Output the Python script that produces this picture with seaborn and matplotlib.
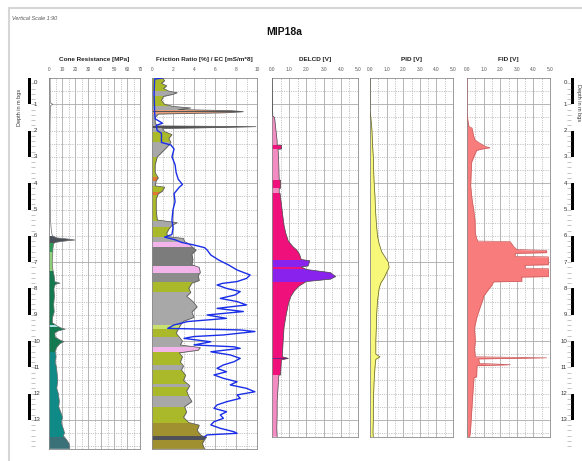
import numpy as np
import matplotlib
matplotlib.use("Agg")
import matplotlib.pyplot as plt
import matplotlib.lines as mlines
import matplotlib.transforms as mtrans
import seaborn as sns

# ---------------------------------------------------------------------------
# data (depth in m bgs)
# ---------------------------------------------------------------------------
qc_depth = [0.0, 0.5, 0.95, 1.0, 1.05, 1.5, 2.0, 2.3, 2.6, 3.0, 4.0, 5.0, 5.5, 5.8,
            6.0, 6.08, 6.12, 6.16, 6.2, 6.25, 6.3, 6.5, 6.8, 7.0, 7.3, 7.4, 7.6,
            7.75, 7.8, 7.85, 8.0, 8.3, 8.6, 8.9, 9.1, 9.3, 9.42, 9.5, 9.55, 9.62,
            9.7, 9.85, 9.95, 10.03, 10.1, 10.25, 10.4, 10.6, 10.8, 11.0, 11.2,
            11.5, 11.8, 12.0, 12.3, 12.5, 12.7, 12.9, 13.1, 13.3, 13.5, 13.6,
            13.75, 13.9, 14.1]
qc_value = [0.8, 0.9, 1.0, 3.0, 1.2, 0.9, 0.8, 0.7, 0.8, 0.8, 0.9, 1.0, 1.3, 1.8,
            2.5, 6.0, 14.0, 20.0, 12.0, 5.0, 3.5, 3.0, 2.8, 2.5, 3.0, 3.5, 4.2,
            4.5, 8.5, 4.8, 3.8, 4.2, 3.6, 4.0, 2.8, 2.5, 6.0, 9.0, 12.5, 7.0,
            4.5, 4.8, 8.0, 11.5, 8.5, 5.9, 4.8, 5.5, 4.8, 5.8, 6.2,
            6.8, 6.0, 7.2, 8.0, 7.5, 9.0, 10.5, 9.5, 10.8, 12.0, 11.0,
            13.5, 15.5, 16.0]
qc_layers = [(6.0, 6.27, "#4a5058"), (6.27, 6.6, "#2e9a58"), (6.6, 7.35, "#8fd07a"),
             (7.35, 9.4, "#137a50"), (9.4, 9.47, "#a8e0e8"), (9.47, 10.4, "#137a50"),
             (10.4, 13.65, "#108a86"), (13.65, 14.1, "#3a7078")]

fr_depth = [0.0, 0.1, 0.2, 0.3, 0.4, 0.5, 0.56, 0.62, 0.7, 0.85, 1.0, 1.08, 1.14,
            1.2, 1.24, 1.28, 1.32, 1.37, 1.5, 1.7, 1.82, 1.85, 1.88, 1.92, 2.04,
            2.15, 2.3, 2.45, 2.6, 2.8, 3.0, 3.3, 3.6, 3.8, 3.9, 4.1, 4.15, 4.3,
            4.4, 4.6, 5.0, 5.4, 5.5, 5.6, 5.75, 5.9, 6.03, 6.1, 6.22, 6.3, 6.41,
            6.55, 6.7, 6.9, 7.1, 7.2, 7.4, 7.5, 7.7, 7.8, 8.0, 8.15, 8.3, 8.5,
            8.7, 8.9, 9.1, 9.25, 9.4, 9.55, 9.7, 9.85, 10.0, 10.15, 10.25, 10.35,
            10.45, 10.6, 10.8, 10.95, 11.1, 11.3, 11.5, 11.7, 11.9, 12.1, 12.3,
            12.5, 12.7, 12.9, 13.1, 13.2, 13.4, 13.6, 13.65, 13.75, 13.9, 14.1]
fr_value = [1.0, 1.2, 0.9, 1.4, 1.1, 1.6, 2.4, 2.0, 1.1, 0.9, 1.2, 2.0, 3.7,
            2.5, 7.5, 8.7, 7.0, 0.6, 0.3, 0.3, 0.5, 9.9, 6.5, 1.0, 1.2,
            1.9, 1.6, 1.8, 1.5, 1.0, 0.5, 0.3, 0.3, 0.6, 0.4, 0.3, 1.2, 1.0,
            0.6, 0.4, 0.4, 0.5, 2.4, 1.9, 1.6, 1.4, 1.5, 3.0, 3.1, 3.5, 3.8,
            4.2, 3.8, 3.9, 3.8, 4.5, 4.6, 4.4, 4.5, 3.8, 3.5, 3.7, 3.3, 3.9,
            4.3, 3.8, 4.0, 3.0, 2.7, 2.5, 2.3, 2.6, 2.9, 2.7, 4.6, 4.4,
            2.6, 2.9, 2.7, 3.0, 2.8, 3.2, 3.0, 3.6, 3.3, 3.5, 3.8,
            3.1, 3.3, 3.0, 3.5, 4.5, 4.3, 4.7, 5.2, 5.0, 4.8, 5.0]

OLIVE, GRAY, DGRAY, SALMON = "#a9b92a", "#a8a8a8", "#7c7c7c", "#e8a07a"
PINK, ORANGE, LGREEN, DOLIVE, CHAR = "#f2b4ea", "#e07830", "#c8e070", "#a09030", "#505058"
fr_layers = [(0.0, 0.5, OLIVE), (0.5, 0.68, GRAY), (0.68, 1.05, OLIVE), (1.05, 1.2, GRAY),
             (1.2, 1.37, SALMON), (1.27, 1.3, "#555555"), (1.37, 1.83, GRAY),
             (1.83, 1.9, "#505050"), (1.9, 2.04, GRAY), (2.04, 2.45, OLIVE),
             (2.45, 3.0, GRAY), (3.0, 3.75, OLIVE), (3.75, 3.92, ORANGE),
             (3.92, 4.12, GRAY), (4.12, 4.32, OLIVE), (4.32, 4.45, ORANGE),
             (4.45, 5.45, OLIVE), (5.45, 5.65, GRAY), (5.65, 6.03, OLIVE),
             (6.03, 6.22, GRAY), (6.22, 6.41, PINK), (6.41, 7.15, DGRAY),
             (7.15, 7.43, PINK), (7.43, 7.74, "#8c8c8c"), (7.74, 8.12, OLIVE),
             (8.12, 9.4, GRAY), (9.4, 9.55, LGREEN), (9.55, 9.83, OLIVE),
             (9.83, 10.22, GRAY), (10.22, 10.41, PINK), (10.41, 10.91, OLIVE),
             (10.91, 11.1, GRAY), (11.1, 11.65, OLIVE), (11.65, 11.75, GRAY),
             (11.75, 12.1, OLIVE), (12.1, 12.5, GRAY), (12.5, 13.1, OLIVE),
             (13.1, 13.6, DOLIVE), (13.6, 13.75, CHAR), (13.75, 14.1, DOLIVE)]

ec_depth = [0.0, 0.04, 0.6, 1.3, 1.55, 1.72, 1.8, 2.0, 2.1, 2.45, 2.55, 2.7, 3.0,
            3.3, 3.6, 3.85, 4.05, 4.15, 4.4, 4.7, 5.0, 5.4, 5.7, 5.95, 6.05, 6.15,
            6.25, 6.35, 6.45, 6.54, 6.73, 6.92, 7.11, 7.30, 7.49, 7.62, 7.74,
            7.81, 7.87, 8.00, 8.12, 8.25, 8.38, 8.50, 8.63, 8.76, 8.88, 9.01,
            9.14, 9.26, 9.39, 9.52, 9.58, 9.64, 9.77, 9.83, 9.90, 10.03, 10.15,
            10.22, 10.28, 10.41, 10.53, 10.66, 10.79, 10.91, 11.04, 11.17, 11.29,
            11.42, 11.55, 11.67, 11.80, 11.93, 12.05, 12.18, 12.31, 12.43, 12.56,
            12.69, 12.81, 12.94, 13.07, 13.19, 13.32, 13.45, 13.51, 13.57, 13.64]
ec_value = [1.0, 0.25, 0.2, 0.25, 0.3, 1.0, 0.4, 0.5, 0.9, 0.9, 1.8, 2.1, 1.9,
            2.2, 2.3, 2.5, 2.9, 2.6, 2.1, 2.2, 2.0, 1.9, 2.0, 1.9, 1.2, 2.2,
            2.8, 4.0, 5.0, 5.25, 5.6, 6.35, 7.3, 8.1, 9.35, 9.0, 8.1,
            6.7, 6.2, 7.1, 8.4, 7.9, 6.5, 8.1, 9.0, 6.2, 8.7, 5.25,
            7.1, 3.4, 2.1, 1.5, 8.4, 9.8, 6.8, 4.0, 3.05, 5.6, 4.0,
            7.8, 8.4, 5.6, 7.45, 8.4, 7.8, 6.8, 6.2, 7.1, 5.9,
            6.8, 8.1, 7.45, 9.0, 9.8, 8.1, 8.4, 7.1, 6.2, 5.9,
            7.1, 6.5, 6.8, 5.9, 5.6, 6.5, 7.8, 8.1, 5.25, 5.0]

delcd_depth = [0.0, 1.15, 1.45, 1.5, 1.8, 2.1, 2.4, 2.55, 2.56, 2.7, 2.71, 3.0, 3.4,
               3.88, 3.89, 4.19, 4.2, 4.38, 4.39, 4.8, 5.2, 5.6, 5.9, 6.2, 6.4,
               6.55, 6.7, 6.9, 6.95, 7.15, 7.18, 7.28, 7.4, 7.55, 7.65, 7.74, 7.9,
               8.1, 8.3, 8.6, 9.1, 9.5, 10.0, 10.6, 10.66, 10.72, 11.29, 11.3,
               11.8, 12.3, 12.8, 13.3, 13.64]
delcd_value = [0.0, 0.02, 0.05, 0.15, 0.2, 0.25, 0.3, 0.3, 0.56, 0.56, 0.35, 0.38, 0.4,
               0.42, 0.5, 0.5, 0.42, 0.42, 0.47, 0.55, 0.62, 0.7, 0.8, 0.95, 1.2,
               1.45, 1.6, 1.7, 2.2, 2.1, 1.7, 2.0, 3.4, 3.7, 3.4, 2.0, 1.6,
               1.3, 1.1, 0.95, 0.8, 0.7, 0.65, 0.6, 0.95, 0.55, 0.5, 0.4,
               0.35, 0.3, 0.3, 0.28, 0.3]
LPINK, HPINK, PURPLE = "#f48cc4", "#f0107c", "#8a22ee"
delcd_layers = [(1.45, 2.55, LPINK), (2.55, 2.71, HPINK), (2.71, 3.88, LPINK),
                (3.88, 4.19, HPINK), (4.19, 4.38, LPINK), (4.38, 6.93, HPINK),
                (6.93, 7.17, PURPLE), (7.17, 7.28, HPINK), (7.28, 7.74, PURPLE),
                (7.74, 11.3, HPINK), (10.63, 10.69, "#702080"), (11.3, 13.65, LPINK)]

pid_depth = [0.0, 1.3, 1.5, 2.0, 2.5, 3.0, 3.5, 4.0, 4.5, 5.0, 5.5, 6.0, 6.3, 6.6,
             6.8, 7.0, 7.2, 7.4, 7.6, 7.8, 8.0, 8.5, 9.0, 9.5, 10.0, 10.5, 10.6,
             10.7, 11.0, 11.5, 12.0, 12.5, 13.0, 13.5, 13.64]
pid_value = [0.0, 0.0, 0.05, 0.12, 0.15, 0.2, 0.22, 0.25, 0.3, 0.33, 0.38, 0.45, 0.55,
             0.7, 0.9, 1.1, 1.15, 1.0, 0.85, 0.65, 0.55, 0.45, 0.4, 0.38, 0.35, 0.35,
             0.6, 0.35, 0.3, 0.25, 0.22, 0.2, 0.2, 0.18, 0.2]

fid_depth = [0.0, 1.34, 1.6, 1.85, 1.9, 2.2, 2.35, 2.45, 2.6, 2.65, 2.7, 2.75, 2.93,
             3.2, 3.6, 4.1, 4.6, 5.0, 5.4, 5.9, 6.1, 6.2, 6.22, 6.4, 6.52, 6.56,
             6.64, 6.67, 6.78, 6.8, 7.1, 7.12, 7.23, 7.25, 7.55, 7.57, 7.73, 7.75,
             7.87, 8.0, 8.12, 8.3, 8.44, 8.7, 9.08, 9.5, 10.0, 10.3, 10.6, 10.64,
             10.68, 10.85, 10.9, 10.94, 11.36, 11.4, 12.0, 12.5, 13.0, 13.5, 13.64]
fid_value = [0.0, 0.0, 0.05, 0.12, 0.3, 0.4, 0.48, 0.7, 1.1, 1.38, 0.9, 0.58, 0.45,
             0.28, 0.25, 0.22, 0.3, 0.4, 0.48, 0.5, 0.58, 0.65, 2.6, 2.8, 3.0, 4.8,
             4.8, 2.9, 2.9, 4.9, 4.9, 3.5, 3.5, 4.9, 4.9, 3.3, 3.3, 1.6,
             1.5, 1.35, 1.2, 1.0, 0.95, 0.8, 0.6, 0.45, 0.5, 0.45, 0.5, 4.8,
             0.7, 0.75, 2.6, 0.6, 0.58, 0.42, 0.35, 0.3, 0.25, 0.2, 0.15]

# ---------------------------------------------------------------------------
# layout helpers (pixel boxes on a 582 x 461 canvas)
# ---------------------------------------------------------------------------
W, H = 582, 461
TOP, PX_PER_M = 78, 26.3
CPT_BOTTOM, MIP_BOTTOM = 449, 437

sns.set_theme(style="white")
plt.rcParams["font.family"] = ["Liberation Sans", "DejaVu Sans"]

fig = plt.figure(figsize=(W / 100, H / 100), dpi=100, facecolor="white")


def px_axes(x0, y0, x1, y1):
    return fig.add_axes([x0 / W, 1 - y1 / H, (x1 - x0) / W, (y1 - y0) / H])


def setup_panel(ax, xmax, step, bottom_px, title, fmt):
    dmax = (bottom_px - TOP) / PX_PER_M
    ax.set_xlim(0, xmax)
    ax.set_ylim(dmax, 0)
    ticks = np.arange(0, xmax + 1e-9, step)
    ax.set_xticks(ticks)
    ax.set_xticklabels([fmt.format(t) for t in ticks])
    ax.set_xticks(np.arange(step / 2, xmax, step), minor=True)
    ax.set_yticks(np.arange(1, dmax, 3))
    ax.set_yticks(np.arange(0.5, dmax, 0.5), minor=True)
    ax.grid(which="major", color="#a9a9a9", lw=0.6, ls="-")
    ax.grid(which="minor", color="#b4b4b4", lw=0.55, ls=(0, (1.5, 1.5)))
    ax.set_axisbelow(True)
    ax.xaxis.tick_top()
    ax.tick_params(axis="x", which="both", length=0, labelsize=3.4,
                   colors="#555555", pad=4.5)
    ax.tick_params(axis="y", which="both", length=0, labelleft=False)
    ax.set_xlabel("")
    ax.set_ylabel("")
    for s in ax.spines.values():
        s.set_color("#8a8a8a")
        s.set_linewidth(0.6)
    bb = ax.get_position()
    fig.text((bb.x0 + bb.x1) / 2, 1 - 60 / H, title, ha="center", va="center",
             fontsize=4.6, fontweight="bold", color="#222222")


def banded_fill(ax, depth, values, layers, base, edge):
    poly = ax.fill_betweenx(depth, 0, values, color=base, lw=0, zorder=2)
    path = poly.get_paths()[0]
    for top, bot, c in layers:
        band = ax.axhspan(top, bot, color=c, lw=0, zorder=2.1)
        band.set_clip_path(path, poly.get_transform())
    sns.lineplot(x=values, y=depth, orient="y", sort=False, estimator=None,
                 color=edge, lw=0.5, ax=ax, legend=False, zorder=3)


# ---------------------------------------------------------------------------
# panels
# ---------------------------------------------------------------------------
ax1 = px_axes(49, TOP, 140, CPT_BOTTOM)
banded_fill(ax1, qc_depth, qc_value, qc_layers, "#ffffff", "#6a6a6a")
setup_panel(ax1, 70, 10, CPT_BOTTOM, "Cone Resistance [MPa]", "{:.0f}")

ax2 = px_axes(152, TOP, 257, CPT_BOTTOM)
banded_fill(ax2, fr_depth, fr_value, fr_layers, GRAY, "#555555")
sns.lineplot(x=ec_value, y=ec_depth, orient="y", sort=False, estimator=None,
             color="#1a2ee8", lw=1.0, ax=ax2, legend=False, zorder=4)
setup_panel(ax2, 10, 2, CPT_BOTTOM, "Friction Ratio [%] / EC [mS/m*8]", "{:.0f}")

ax3 = px_axes(272, TOP, 358, MIP_BOTTOM)
banded_fill(ax3, delcd_depth, delcd_value, delcd_layers, "#ffffff", "#444444")
setup_panel(ax3, 5, 1, MIP_BOTTOM, "DELCD [V]", "{:.1f}")

ax4 = px_axes(370, TOP, 453, MIP_BOTTOM)
banded_fill(ax4, pid_depth, pid_value, [], "#f7f77a", "#5a5a30")
setup_panel(ax4, 5, 1, MIP_BOTTOM, "PID [V]", "{:.1f}")

ax5 = px_axes(467, TOP, 550, MIP_BOTTOM)
banded_fill(ax5, fid_depth, fid_value, [], "#f87c7c", "#c86060")
setup_panel(ax5, 5, 1, MIP_BOTTOM, "FID [V]", "{:.1f}")

# ---------------------------------------------------------------------------
# depth scale bars on both sides
# ---------------------------------------------------------------------------
dmax_cpt = (CPT_BOTTOM - TOP) / PX_PER_M
depth_labels = list(range(0, 14))


def depth_bar(x0, x1, side):
    ax = px_axes(x0, TOP, x1, CPT_BOTTOM)
    ax.set_ylim(dmax_cpt, 0)
    ax.set_xlim(0, 1)
    ax.axis("off")
    for d in depth_labels:
        if d % 2 == 0:
            ax.axhspan(d, d + 1, color="black", lw=0)
    trans = mtrans.blended_transform_factory(ax.transAxes, ax.transData)
    minor = np.arange(0.2, dmax_cpt, 0.2)
    xs = (1.0, 2.2) if side == "left" else (-1.2, 0.0)
    ax.hlines(minor, xs[0], xs[1], transform=trans, color="#9a9a9a", lw=0.4,
              clip_on=False)
    for d in depth_labels:
        y = d + 0.18 if d == 0 else d
        if side == "left":
            ax.text(2.0, y, str(d), transform=trans, ha="left", va="center",
                    fontsize=4.4, color="#333333")
        else:
            ax.text(-1.3, y, str(d), transform=trans, ha="right", va="center",
                    fontsize=4.4, color="#333333")
    return ax


depth_bar(28, 31, "left")
depth_bar(571, 574, "right")
fig.text(20 / W, 1 - 107 / H, "Depth in m bgs", rotation=90, ha="center",
         va="center", fontsize=4, color="#333333")
fig.text(579 / W, 1 - 103 / H, "Depth in m bgs", rotation=270, ha="center",
         va="center", fontsize=4, color="#333333")

# ---------------------------------------------------------------------------
# frame, title
# ---------------------------------------------------------------------------
fig.add_artist(mlines.Line2D([9 / W, 1], [1 - 8 / H, 1 - 8 / H],
                             transform=fig.transFigure, color="#d6d6d6", lw=1.5))
fig.add_artist(mlines.Line2D([9 / W, 9 / W], [0, 1 - 8 / H],
                             transform=fig.transFigure, color="#d6d6d6", lw=1.5))
fig.text(12 / W, 1 - 19 / H, "Vertical Scale 1:90", ha="left", va="center",
         fontsize=4, style="italic", color="#555555")
fig.text(284 / W, 1 - 32 / H, "MIP18a", ha="center", va="center",
         fontsize=7.5, fontweight="bold", color="#111111")

fig.savefig("out.png", dpi=100, facecolor="white")
